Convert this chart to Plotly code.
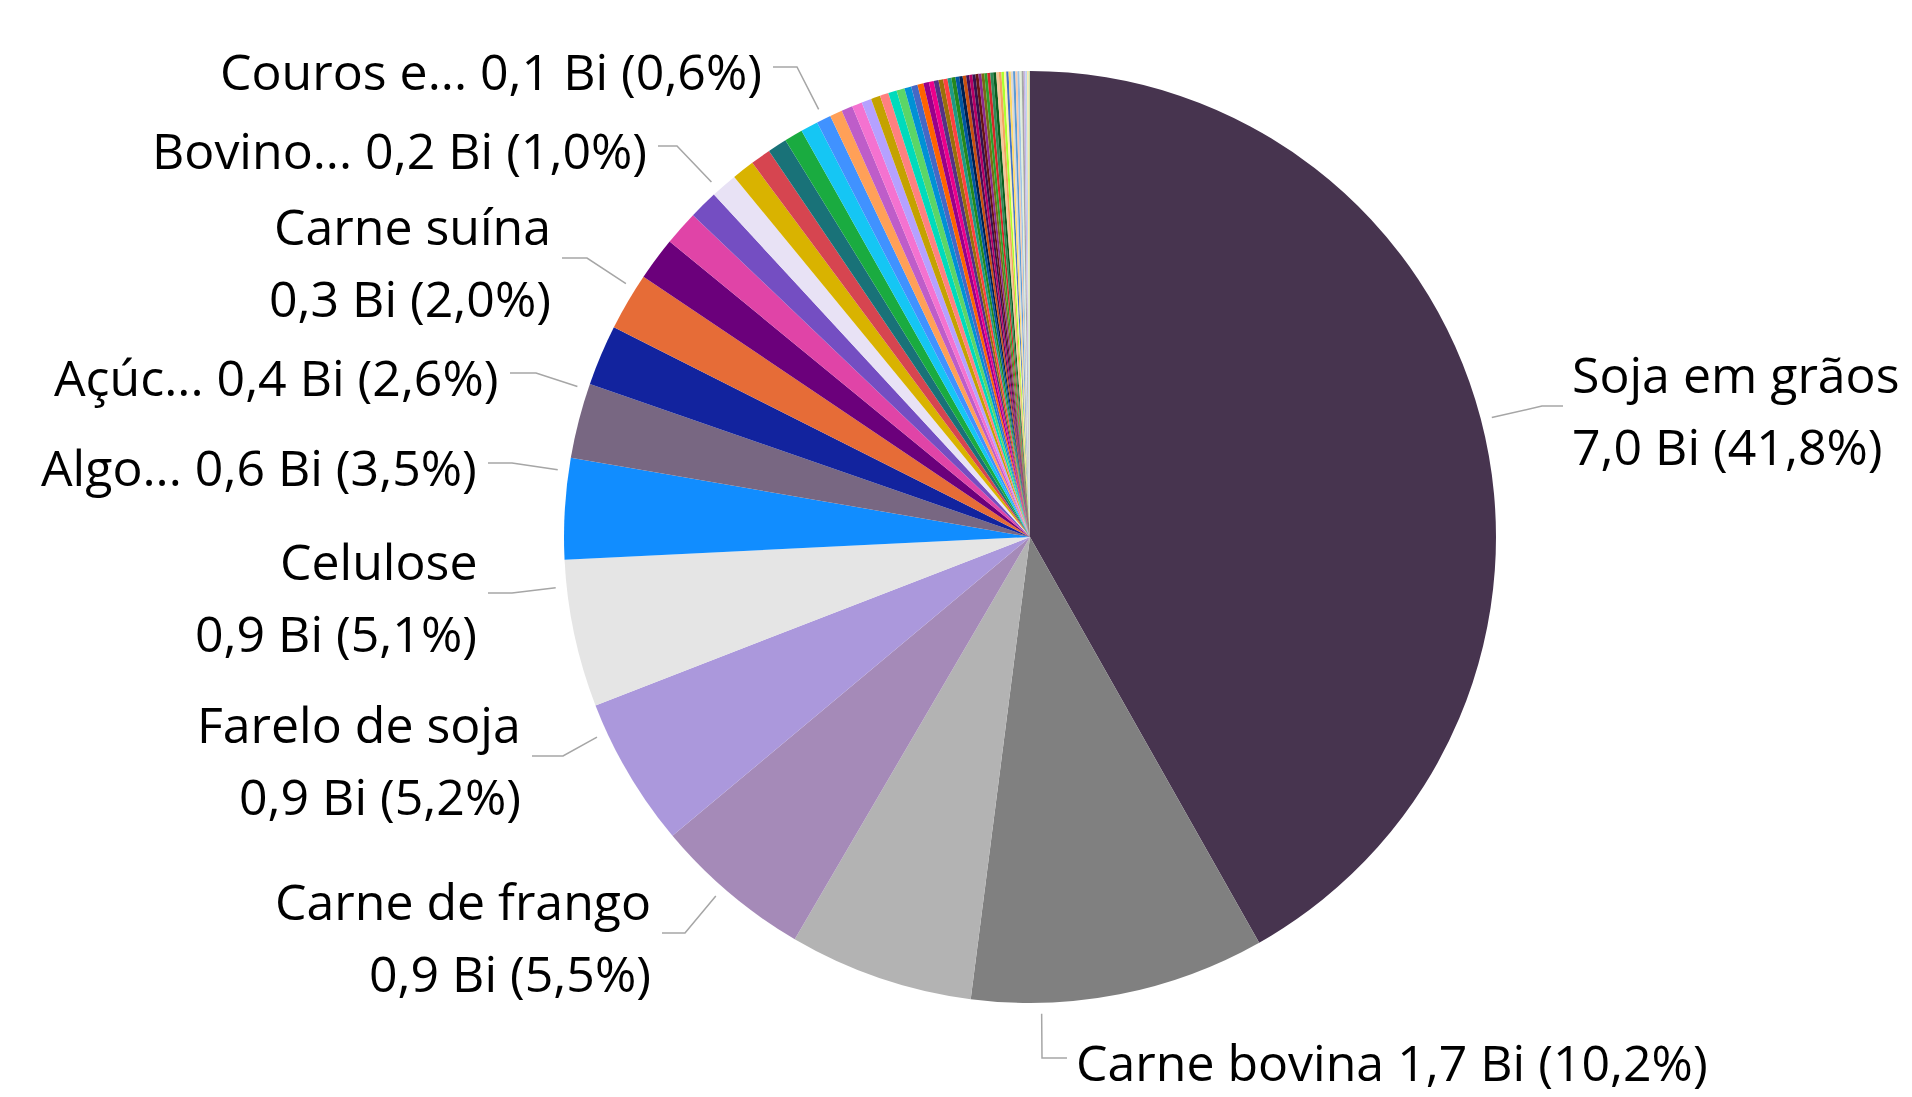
import math
import plotly.graph_objects as go

# ---------------- DATA ----------------
categories = [
    "Soja em grãos", "Carne bovina", "Milho", "Carne de frango", "Farelo de soja",
    "Celulose", "Algodão não cardado", "Açúcar de cana", "Café não torrado", "Carne suína",
    "Óleo de soja", "Madeira serrada", "Bovinos vivos", "Miudezas de bovinos", "Suco de laranja",
    "Fumo não manufaturado", "Papel", "Gelatinas", "Couros e peles", "Sebo bovino",
    "Frutas frescas", "Castanhas", "Pimenta", "Cacau", "Álcool etílico",
    "Ovos", "Mel natural", "Leite e derivados", "Rações animais", "Gorduras animais",
    "Tripas de animais", "Sorgo", "Trigo", "Feijão", "Arroz",
    "Amendoim", "Café solúvel", "Chá e mate", "Peixes", "Camarões",
    "Sementes", "Plantas vivas", "Flores", "Borracha natural", "Lã",
    "Sisal", "Cera vegetal", "Óleos essenciais", "Gengibre", "Cebola",
    "Batata", "Tomate", "Melão", "Manga", "Uva",
    "Banana", "Limão", "Mamão", "Abacaxi", "Coco",
    "Castanha de caju", "Erva-mate", "Tabaco processado", "Malte", "Farinha de trigo",
    "Massas alimentícias", "Biscoitos",
]

# export value, in billions (Bi)
values_bi = [
    7.000, 1.710, 1.070, 0.920, 0.870,
    0.855, 0.586, 0.436, 0.352, 0.335,
    0.251, 0.201, 0.168, 0.154, 0.131,
    0.117, 0.112, 0.107, 0.101, 0.084,
    0.072, 0.065, 0.059, 0.057, 0.054,
    0.050, 0.049, 0.047, 0.040, 0.037,
    0.035, 0.032, 0.028, 0.028, 0.027,
    0.025, 0.023, 0.023, 0.022, 0.020,
    0.020, 0.018, 0.018, 0.018, 0.017,
    0.017, 0.017, 0.017, 0.017, 0.017,
    0.017, 0.015, 0.015, 0.015, 0.013,
    0.013, 0.013, 0.013, 0.013, 0.012,
    0.012, 0.012, 0.012, 0.010, 0.010,
    0.008, 0.008,
]

colors = [
    "#47344F", "#808080", "#B3B3B3", "#A58AB8", "#AB98DC",
    "#E5E5E5", "#118DFF", "#786782", "#12239E", "#E66C37",
    "#6B007B", "#E044A7", "#744EC2", "#E8E2F5", "#D9B300",
    "#D64550", "#197278", "#1AAB40", "#15C6F4", "#4092FF",
    "#FFA058", "#BE5DC9", "#F472D0", "#B5A1FF", "#C4A200",
    "#FF8080", "#00DBBC", "#5BD667", "#0091D5", "#4668C5",
    "#FF6300", "#99008A", "#EC008C", "#533285", "#99700A",
    "#FF4141", "#1F9A85", "#25891C", "#0057A2", "#002050",
    "#C94F0F", "#450F54", "#B60064", "#34124F", "#6A1514",
    "#8B2A8E", "#7A6A14", "#2CA02C", "#D62728", "#2E8B57",
    "#0B5D1E", "#F5C89A", "#F4A460", "#ADFF2F", "#FFF2A8",
    "#4472C4", "#FFD966", "#D9D9D9", "#5B9BD5", "#F8CBAD",
    "#9DC3E6", "#E2EFDA", "#A5A5A5", "#C9B3E6", "#BDD7EE",
    "#FFE699", "#C5E0B4",
]

# slices that carry a visible data label, and the (truncated) name shown
labeled_index = [0, 1, 3, 4, 5, 6, 7, 9, 12, 18]
labeled_text = ["Soja em grãos", "Carne bovina", "Carne de frango", "Farelo de soja",
                "Celulose", "Algo...", "Açúc...", "Carne suína", "Bovino...", "Couros e..."]

# ---------------- LAYOUT / STYLE ----------------
W, H = 1912, 1097
CX, CY, R = 1030, 537, 466
FONT = "Open Sans"
FSIZE = 50
LINE_GAP = 36  # half the distance between the two lines of a label (px)
LINE_COLOR = "#A6A6A6"

# label placement (px): leader start angle (deg, clockwise from top), elbow x/y, end x, side, two lines
label_layout = [
    dict(ang=75.5, ex=1542, ey=406, endx=1563, side="right", two=True),
    dict(ang=178.6, ex=1042, ey=1058, endx=1067, side="right", two=False),
    dict(ang=221.2, ex=685, ey=933, endx=662, side="left", two=True),
    dict(ang=245.2, ex=563, ey=756, endx=532, side="left", two=True),
    dict(ang=263.9, ex=512, ey=593, endx=488, side="left", two=True),
    dict(ang=278.1, ex=512, ey=463, endx=488, side="left", two=False),
    dict(ang=288.4, ex=536, ey=373, endx=510, side="left", two=False),
    dict(ang=302.1, ex=587, ey=258, endx=562, side="left", two=True),
    dict(ang=318.1, ex=677, ey=146, endx=658, side="left", two=False),
    dict(ang=333.7, ex=797, ey=67, endx=773, side="left", two=False),
]

total = sum(values_bi)


def fmt(v, d=1):
    return f"{v:.{d}f}".replace(".", ",")


def px(x, y):
    return x / W, 1 - y / H


fig = go.Figure()
fig.add_trace(go.Pie(
    labels=categories,
    values=values_bi,
    marker=dict(colors=colors, line=dict(width=0)),
    sort=False,
    direction="clockwise",
    rotation=0,
    textinfo="none",
    hovertemplate="%{label}<br>%{value:.2f} Bi (%{percent})<extra></extra>",
    domain=dict(x=[(CX - R) / W, (CX + R) / W], y=[1 - (CY + R) / H, 1 - (CY - R) / H]),
    showlegend=False,
))

shapes = []
annotations = []


def add_text(text, x, y, xa):
    ax, ay = px(x, y)
    annotations.append(dict(
        x=ax, y=ay, xref="paper", yref="paper", xanchor=xa, yanchor="middle",
        align=xa, text=text, showarrow=False, borderpad=0,
        font=dict(family=FONT, size=FSIZE, color="#000000"),
    ))


for idx, name, lay in zip(labeled_index, labeled_text, label_layout):
    v = values_bi[idx]
    vtxt = f"{fmt(v)} Bi ({fmt(100 * v / total)}%)"
    a = math.radians(lay["ang"])
    r0 = R + 11
    sx, sy = CX + r0 * math.sin(a), CY - r0 * math.cos(a)
    p0 = px(sx, sy)
    p1 = px(lay["ex"], lay["ey"])
    p2 = px(lay["endx"], lay["ey"])
    shapes.append(dict(
        type="path", xref="paper", yref="paper",
        path=f"M {p0[0]:.5f},{p0[1]:.5f} L {p1[0]:.5f},{p1[1]:.5f} L {p2[0]:.5f},{p2[1]:.5f}",
        line=dict(color=LINE_COLOR, width=1.5),
    ))
    if lay["side"] == "right":
        tx, xa = lay["endx"] + 8, "left"
    else:
        tx, xa = lay["endx"] - 10, "right"
    yc = lay["ey"] + 4
    if lay["two"]:
        add_text(name, tx, yc - LINE_GAP, xa)
        add_text(vtxt, tx, yc + LINE_GAP, xa)
    else:
        add_text(f"{name} {vtxt}", tx, yc, xa)

fig.update_layout(
    width=W, height=H,
    margin=dict(l=0, r=0, t=0, b=0),
    paper_bgcolor="white", plot_bgcolor="white",
    shapes=shapes, annotations=annotations,
    font=dict(family=FONT),
)

fig.write_html(
    "out.html",
    config={"displayModeBar": False},
    post_script="document.body.style.margin='0';document.body.style.overflow='hidden';",
)
